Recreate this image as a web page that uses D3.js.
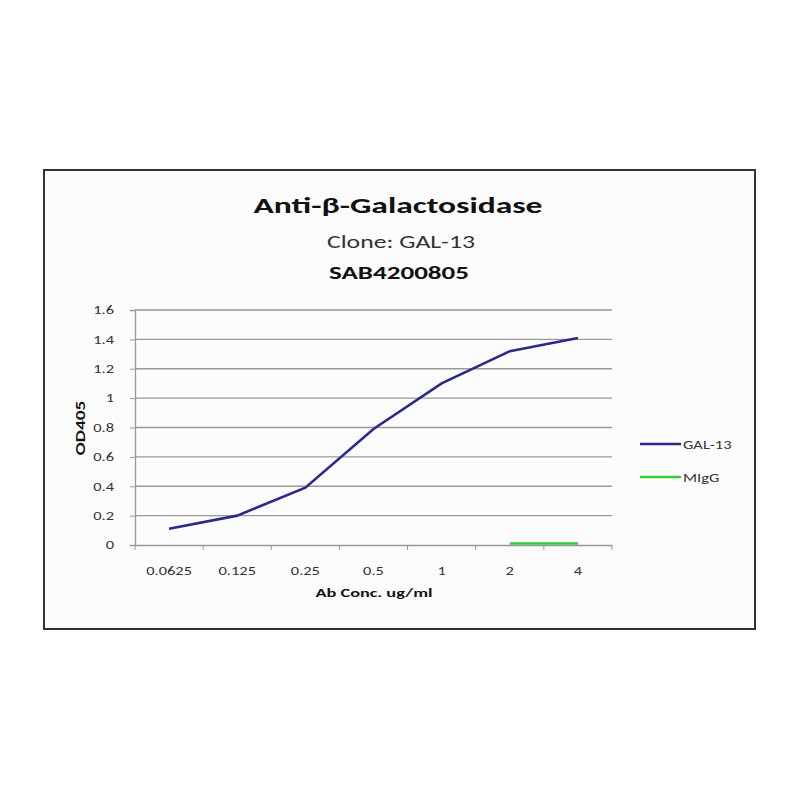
<!DOCTYPE html>
<html><head><meta charset="utf-8">
<script src="https://cdn.jsdelivr.net/npm/d3@7"></script>
<style>body{margin:0;background:#fff}svg{display:block}text{font-family:Calibri,Carlito,Lato,"Open Sans",sans-serif}</style>
</head><body><div id="c"></div>
<script>
const categories = ["0.0625","0.125","0.25","0.5","1","2","4"];
const gal13 = [0.11, 0.20, 0.39, 0.79, 1.10, 1.32, 1.41];
const migg = [null, null, null, null, null, 0.01, 0.01];
const yTicks = [0,0.2,0.4,0.6,0.8,1,1.2,1.4,1.6];
const seriesNames = ["GAL-13","MIgG"];
const seriesColors = ["#2a2a8c","#33cc33"];

const W=800,H=800, STRETCH=1.37;
const svg=d3.select("#c").append("svg").attr("width",W).attr("height",H);
svg.append("rect").attr("x",44).attr("y",170).attr("width",711).attr("height",459)
  .attr("fill","#fcfcfc").attr("stroke","#333").attr("stroke-width",2);

const x=d3.scaleBand().domain(categories).range([135,612]);
const y=d3.scaleLinear().domain([0,1.6]).range([545,310]);

// gridlines
svg.append("g").selectAll("line").data(yTicks.filter(d=>d>0)).join("line")
  .attr("x1",135).attr("x2",612).attr("y1",d=>y(d)).attr("y2",d=>y(d))
  .attr("stroke","#999").attr("stroke-width",1.3);

// y axis
const ya=svg.append("g").attr("transform","translate(135,0)")
  .call(d3.axisLeft(y).tickValues(yTicks).tickSize(5).tickPadding(16).tickFormat(d3.format("~g")));
ya.select(".domain").attr("stroke","#999").attr("stroke-width",1.3);
ya.selectAll(".tick line").attr("stroke","#999");
ya.selectAll("text").attr("font-size",12).attr("fill","#333");

// x axis
const xa=svg.append("g").attr("transform","translate(0,545)")
  .call(d3.axisBottom(x).tickSize(0).tickPadding(21));
xa.select(".domain").attr("stroke","#999").attr("stroke-width",1.3);
xa.selectAll("text").attr("font-size",12).attr("fill","#333");
// boundary tick marks
svg.append("g").selectAll("line").data(d3.range(categories.length+1)).join("line")
  .attr("x1",i=>135+i*x.step()).attr("x2",i=>135+i*x.step())
  .attr("y1",545).attr("y2",550).attr("stroke","#999");

const line=d3.line().defined(d=>d.v!=null).x(d=>x(d.c)+x.bandwidth()/2).y(d=>y(d.v));
[gal13,migg].forEach((s,i)=>{
  svg.append("path").datum(categories.map((c,j)=>({c,v:s[j]})))
    .attr("d",line).attr("fill","none").attr("stroke",seriesColors[i]).attr("stroke-width",2.6);
});

// titles
svg.append("text").attr("x",398).attr("y",213).attr("text-anchor","middle").attr("data-len",289)
  .attr("font-size",22).attr("font-weight","bold").attr("fill","#111").text("Anti-β-Galactosidase");
svg.append("text").attr("x",401).attr("y",248).attr("text-anchor","middle").attr("data-len",148)
  .attr("font-size",19).attr("fill","#333").text("Clone: GAL-13");
svg.append("text").attr("x",399).attr("y",279).attr("text-anchor","middle").attr("data-len",140)
  .attr("font-size",19).attr("font-weight","bold").attr("fill","#111").text("SAB4200805");

svg.append("text").attr("x",374).attr("y",597).attr("text-anchor","middle").attr("data-len",117)
  .attr("font-size",12).attr("font-weight","bold").attr("fill","#111").text("Ab Conc. ug/ml");
svg.append("text").attr("transform","translate(85,428) rotate(-90)").attr("text-anchor","middle").attr("data-len",55)
  .attr("font-size",13).attr("font-weight","bold").attr("fill","#111").text("OD405");

// legend
const lg=svg.append("g").selectAll("g").data(seriesNames).join("g")
  .attr("transform",(d,i)=>`translate(640,${444+i*33})`);
lg.append("line").attr("x1",0).attr("x2",41).attr("stroke",(d,i)=>seriesColors[i]).attr("stroke-width",2.6);
lg.append("text").attr("x",43).attr("y",5).attr("font-size",12).attr("fill","#333").text(d=>d);

// the reference picture is horizontally stretched: widen glyphs accordingly
svg.selectAll("text").each(function(){
  const t=d3.select(this);
  const fixed=t.attr("data-len");
  const len=fixed?+fixed:this.getComputedTextLength()*STRETCH;
  t.attr("textLength",len).attr("lengthAdjust","spacingAndGlyphs");
});
</script></body></html>
